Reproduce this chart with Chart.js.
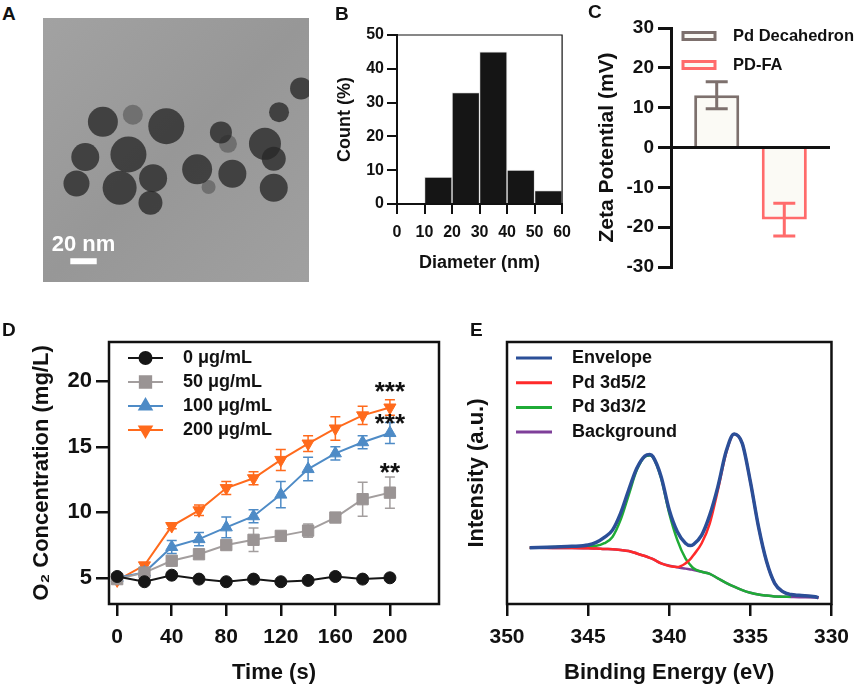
<!DOCTYPE html>
<html>
<head>
<meta charset="utf-8">
<script src="https://cdn.jsdelivr.net/npm/chart.js@4.4.1/dist/chart.umd.min.js"></script>
<style>
  body { margin: 0; background: #fff; }
  #fig { position: relative; width: 858px; height: 689px; overflow: hidden;
         font-family: 'Liberation Sans', Arial, Helvetica, sans-serif; }
  canvas { position: absolute; }
  .tag { position: absolute; font-weight: bold; font-size: 19px; line-height: 19px; color: #111; }
</style>
</head>
<body>
<div id="fig">
  <canvas id="panelA" width="302" height="300" style="left:25px;top:0px"></canvas>
  <canvas id="panelB" width="250" height="260" style="left:330px;top:20px"></canvas>
  <canvas id="panelC" width="268" height="275" style="left:590px;top:10px"></canvas>
  <canvas id="panelD" width="450" height="369" style="left:0px;top:320px"></canvas>
  <canvas id="panelE" width="398" height="369" style="left:460px;top:320px"></canvas>
  <div class="tag" style="left:2px;top:4px">A</div>
  <div class="tag" style="left:335px;top:4px">B</div>
  <div class="tag" style="left:588px;top:2px">C</div>
  <div class="tag" style="left:2px;top:320px">D</div>
  <div class="tag" style="left:470px;top:320px">E</div>
</div>
<script>
// ---- A: TEM image, particle positions (image px) ----
const particleX = [68, 140, 97, 48, 38, 87, 125, 122, 175, 202, 215, 252, 262, 293, 268, 262];
const particleY = [118, 123, 155, 158, 188, 193, 182, 210, 172, 130, 177, 143, 193, 80, 107, 160];
const particleR = [15, 18, 18, 14, 13, 17, 14, 12, 15, 11, 14, 16, 14, 11, 10, 12];
const faintX = [102, 188, 210];
const faintY = [110, 192, 143];
const faintR = [10, 7, 9];

// ---- B: size histogram ----
const diameterBins = [15, 25, 35, 45, 55];
const countPct = [8, 33, 45, 10, 4];
const diameterTicks = [0, 10, 20, 30, 40, 50, 60];
const countTicks = [0, 10, 20, 30, 40, 50];

// ---- C: zeta potential ----
const zetaLabels = ['Pd Decahedron', 'PD-FA'];
const zetaMean = [13.1, -18.1];
const zetaSd = [3.4, 4.1];
const zetaTicks = [-30, -20, -10, 0, 10, 20, 30];

// ---- D: O2 generation ----
const times = [0, 20, 40, 60, 80, 100, 120, 140, 160, 180, 200];
const o2Labels = ['0 μg/mL', '50 μg/mL', '100 μg/mL', '200 μg/mL'];
const o2_0 = [5.1, 4.7, 5.2, 4.9, 4.7, 4.9, 4.7, 4.8, 5.1, 4.9, 5.0];
const o2_0Err = [0.1, 0.1, 0.1, 0.1, 0.1, 0.1, 0.1, 0.1, 0.1, 0.1, 0.1];
const o2_50 = [4.9, 5.4, 6.3, 6.8, 7.5, 7.9, 8.2, 8.6, 9.6, 11.0, 11.5];
const o2_50Err = [0.1, 0.2, 0.3, 0.2, 0.2, 0.9, 0.3, 0.5, 0.3, 1.3, 1.2];
const o2_100 = [5.0, 5.4, 7.35, 7.95, 8.85, 9.7, 11.35, 13.3, 14.5, 15.35, 16.05];
const o2_100Err = [0.1, 0.2, 0.5, 0.5, 0.8, 0.5, 1.0, 0.9, 0.5, 0.5, 0.8];
const o2_200 = [4.8, 5.95, 8.95, 10.15, 11.85, 12.6, 14.0, 15.25, 16.4, 17.4, 18.0];
const o2_200Err = [0.1, 0.2, 0.2, 0.4, 0.5, 0.5, 0.8, 0.6, 0.9, 0.7, 0.6];
const timeTicks = [0, 40, 80, 120, 160, 200];
const o2Ticks = [5, 10, 15, 20];
const sigText = ['***', '***', '**'];
const sigX = [200, 200, 200];
const sigY = [19.1, 16.7, 12.9];

// ---- E: XPS Pd 3d ----
const bindingEnergy = [348.6, 347, 346, 345, 344.5, 344, 343.5, 343, 342.5, 342, 341.5, 341.2, 341, 340.5, 340,
  339.5, 339, 338.7, 338.5, 338, 337.5, 337, 336.5, 336, 335.5, 335, 334.5, 334, 333.5, 333, 332.5, 332, 331, 330.8];
const envelope = [21.5, 21.8, 22.0, 22.5, 23.5, 25.4, 28.2, 34.6, 43.5, 51.8, 56.5, 57.1, 56.2, 48.6, 35.9,
  27.6, 23.2, 22.3, 22.8, 26.3, 34.0, 44.8, 58.1, 64.9, 61.3, 46.7, 29.5, 16.2, 7.9, 4.7, 3.6, 3.3, 2.8, 2.4];
const pd3d52 = [21.5, 21.4, 21.4, 21.3, 21.2, 21.0, 20.9, 20.6, 20.2, 19.3, 18.3, 17.6, 17.1, 15.5, 14.5,
  14.1, 15.5, 17.1, 18.7, 23.2, 30.8, 43.5, 57.5, 64.9, 61.3, 46.7, 29.5, 16.2, 7.9, 4.7, 3.6, 3.3, 2.8, 2.4];
const pd3d32 = [21.5, 21.8, 22.0, 22.1, 22.2, 23.2, 25.6, 32.1, 41.6, 51.1, 56.2, 56.7, 56.0, 48.0, 34.6,
  24.4, 17.4, 14.9, 13.6, 12.3, 11.5, 9.8, 8.1, 6.6, 5.3, 4.3, 3.6, 3.2, 2.9, 2.8, 2.8, null, null, null];
const background = [21.5, 21.4, 21.4, 21.3, 21.2, 21.0, 20.9, 20.6, 20.2, 19.3, 18.3, 17.6, 17.1, 15.5, 14.6,
  14.0, 13.5, 13.2, 13.0, 12.3, 11.5, 9.8, 8.1, 6.6, 5.3, 4.3, 3.6, 3.2, 2.9, 2.8, 2.7, 2.6, 2.5, 2.4];
const xpsLabels = ['Envelope', 'Pd 3d5/2', 'Pd 3d3/2', 'Background'];
const energyTicks = [350, 345, 340, 335, 330];

const FONT = "'Liberation Sans', Arial, Helvetica, sans-serif";
Chart.defaults.font.family = FONT;
Chart.defaults.font.weight = 'bold';
Chart.defaults.color = '#111';
Chart.defaults.animation = false;
Chart.defaults.responsive = false;
Chart.defaults.plugins.legend.display = false;
Chart.defaults.plugins.tooltip.enabled = false;

// helpers for fixed axes
const fixTicks = values => s => { s.ticks = values.map(v => ({ value: v })); };
const fixWidth = w => s => { s.width = w; };
const fixHeight = h => s => { s.height = h; };
const tickGrid = (len, w) => ({ drawOnChartArea: false, drawTicks: true, tickLength: len,
  tickWidth: w, tickColor: '#111', color: '#111', lineWidth: w });
const xy = (xs, ys) => xs.map((x, i) => ({ x: x, y: ys[i] })).filter(p => p.y !== null);

// box around the plot area
const framePlugin = {
  id: 'frame',
  afterDraw(chart, args, o) {
    const { ctx, chartArea: a } = chart;
    ctx.save();
    ctx.strokeStyle = '#111';
    ctx.lineWidth = o.width;
    ctx.lineCap = 'square';
    ctx.beginPath();
    const sides = o.sides || 'tlrb';
    if (sides.includes('t')) { ctx.moveTo(a.left, a.top); ctx.lineTo(a.right, a.top); }
    if (sides.includes('r')) { ctx.moveTo(a.right, a.top); ctx.lineTo(a.right, a.bottom); }
    if (sides.includes('b')) { ctx.moveTo(a.left, a.bottom); ctx.lineTo(a.right, a.bottom); }
    if (sides.includes('l')) { ctx.moveTo(a.left, a.top); ctx.lineTo(a.left, a.bottom); }
    ctx.stroke();
    ctx.restore();
  }
};

// mean +/- sd bars
function drawErrors(chart, o) {
  const ctx = chart.ctx;
  chart.data.datasets.forEach((ds, di) => {
    if (!ds.errors) return;
    const meta = chart.getDatasetMeta(di);
    const yScale = chart.scales[meta.yAxisID];
    meta.data.forEach((el, i) => {
      const raw = ds.data[i];
      const v = typeof raw === 'object' ? raw.y : raw;
      const e = ds.errors[i];
      const x = el.x;
      const y1 = yScale.getPixelForValue(v + e);
      const y2 = yScale.getPixelForValue(v - e);
      ctx.save();
      ctx.strokeStyle = ds.borderColor;
      ctx.lineWidth = o.width;
      ctx.beginPath();
      ctx.moveTo(x, y1); ctx.lineTo(x, y2);
      ctx.moveTo(x - o.cap / 2, y1); ctx.lineTo(x + o.cap / 2, y1);
      ctx.moveTo(x - o.cap / 2, y2); ctx.lineTo(x + o.cap / 2, y2);
      ctx.stroke();
      ctx.restore();
    });
  });
}
const errorBarPlugin = {
  id: 'errorBars',
  beforeDatasetsDraw(chart, args, o) { if (o.behind) drawErrors(chart, o); },
  afterDatasetsDraw(chart, args, o) { if (!o.behind) drawErrors(chart, o); }
};

// legend drawn inside the plot
const insideLegend = {
  id: 'insideLegend',
  afterDraw(chart, args, o) {
    const ctx = chart.ctx;
    chart.data.datasets.forEach((ds, i) => {
      const y = o.y + i * o.gap;
      ctx.save();
      if (o.kind === 'box') {
        ctx.fillStyle = ds.backgroundColor;
        ctx.strokeStyle = ds.borderColor;
        ctx.lineWidth = o.lineWidth;
        ctx.fillRect(o.x0, y - o.h / 2, o.x1 - o.x0, o.h);
        ctx.strokeRect(o.x0, y - o.h / 2, o.x1 - o.x0, o.h);
      } else {
        ctx.strokeStyle = ds.borderColor;
        ctx.lineWidth = o.lineWidth;
        ctx.beginPath();
        ctx.moveTo(o.x0, y); ctx.lineTo(o.x1, y);
        ctx.stroke();
        if (o.markers && Chart.helpers && Chart.helpers.drawPoint) {
          ctx.fillStyle = ds.pointBackgroundColor;
          ctx.strokeStyle = ds.pointBackgroundColor;
          Chart.helpers.drawPoint(ctx, { pointStyle: ds.pointStyle, rotation: ds.pointRotation || 0,
            radius: ds.pointRadius, borderWidth: 1 }, (o.x0 + o.x1) / 2, y);
        }
      }
      ctx.fillStyle = '#111';
      ctx.font = 'bold ' + o.size + 'px ' + FONT;
      ctx.textBaseline = 'middle';
      ctx.textAlign = 'left';
      ctx.fillText(ds.label, o.textX, y);
      ctx.restore();
    });
  }
};

// ---------- Panel A ----------
const temPlugin = {
  id: 'tem',
  beforeDraw(chart) {
    const { ctx, chartArea: a } = chart;
    const g = ctx.createLinearGradient(a.left, a.top, a.right, a.bottom);
    g.addColorStop(0, '#a2a2a2');
    g.addColorStop(0.5, '#979797');
    g.addColorStop(1, '#a0a0a0');
    ctx.save();
    ctx.fillStyle = g;
    ctx.fillRect(a.left, a.top, a.right - a.left, a.bottom - a.top);
    ctx.restore();
  },
  afterDraw(chart) {
    const { ctx, scales: { x, y } } = chart;
    ctx.save();
    ctx.fillStyle = '#fff';
    ctx.fillRect(x.getPixelForValue(31), y.getPixelForValue(273), x.getPixelForValue(61) - x.getPixelForValue(31), 6);
    ctx.font = 'bold 22px ' + FONT;
    ctx.textAlign = 'center';
    ctx.textBaseline = 'middle';
    ctx.fillText('20 nm', x.getPixelForValue(46), y.getPixelForValue(258));
    ctx.restore();
  }
};
new Chart(document.getElementById('panelA'), {
  type: 'bubble',
  data: {
    datasets: [
      { data: particleX.map((px, i) => ({ x: px, y: particleY[i], r: particleR[i] })),
        backgroundColor: 'rgba(40,40,40,0.78)', borderWidth: 0 },
      { data: faintX.map((px, i) => ({ x: px, y: faintY[i], r: faintR[i] })),
        backgroundColor: 'rgba(70,70,70,0.5)', borderWidth: 0 }
    ]
  },
  options: {
    layout: { padding: 0 },
    scales: {
      x: { display: false, min: 0, max: 302 },
      y: { display: false, min: 0, max: 300, reverse: true }
    }
  },
  plugins: [temPlugin]
});

// ---------- Panel B ----------
new Chart(document.getElementById('panelB'), {
  type: 'bar',
  data: {
    datasets: [{
      data: xy(diameterBins, countPct),
      backgroundColor: '#151515', borderColor: '#e6e6e6', borderWidth: 1,
      borderSkipped: 'bottom', barPercentage: 1, categoryPercentage: 1
    }]
  },
  options: {
    layout: { padding: { top: 15, right: 15 } },
    plugins: { frame: { width: 1.2, sides: 'tr' } },
    scales: {
      x: {
        type: 'linear', min: 0, max: 60, offset: false,
        afterBuildTicks: fixTicks(diameterTicks), afterFit: fixHeight(76),
        grid: Object.assign(tickGrid(10, 2), { offset: false }),
        border: { color: '#111', width: 2 },
        ticks: { font: { size: 16 }, padding: 9, autoSkip: false, maxRotation: 0 },
        title: { display: true, text: 'Diameter (nm)', font: { size: 18 }, padding: { bottom: 6 } }
      },
      y: {
        min: 0, max: 50,
        afterBuildTicks: fixTicks(countTicks), afterFit: fixWidth(67),
        grid: tickGrid(10, 2),
        border: { color: '#111', width: 2 },
        ticks: { font: { size: 16 }, padding: 3 },
        title: { display: true, text: 'Count (%)', font: { size: 18 }, padding: { top: 4 } }
      }
    }
  },
  plugins: [framePlugin]
});

// ---------- Panel C ----------
const zetaColors = ['#7d706d', '#ff6b6b'];
new Chart(document.getElementById('panelC'), {
  type: 'bar',
  data: {
    labels: ['zeta'],
    datasets: zetaLabels.map((lab, i) => ({
      label: lab, data: [zetaMean[i]], errors: [zetaSd[i]],
      backgroundColor: '#fbfaf5', borderColor: zetaColors[i], borderWidth: 3,
      categoryPercentage: 0.85, barPercentage: 0.667
    }))
  },
  options: {
    layout: { padding: { top: 18, right: 28, bottom: 18 } },
    plugins: {
      errorBars: { width: 3, cap: 22, behind: false },
      insideLegend: { kind: 'box', x0: 93, x1: 125, h: 7, lineWidth: 3, y: 26, gap: 29, textX: 143, size: 16.5 }
    },
    scales: {
      x: { display: false },
      y: {
        min: -30, max: 30,
        afterBuildTicks: fixTicks(zetaTicks), afterFit: fixWidth(81),
        grid: {
          drawOnChartArea: true, drawTicks: true, tickLength: 13, tickWidth: 3, tickColor: '#111', lineWidth: 3,
          color: c => (c.tick && c.tick.value === 0 ? '#111' : 'rgba(0,0,0,0)')
        },
        border: { color: '#111', width: 3 },
        ticks: { font: { size: 19 }, padding: 4 },
        title: { display: true, text: 'Zeta Potential (mV)', font: { size: 21 }, padding: { top: 5 } }
      }
    }
  },
  plugins: [errorBarPlugin, insideLegend]
});

// ---------- Panel D ----------
const sigPlugin = {
  id: 'sig',
  afterDatasetsDraw(chart) {
    const { ctx, scales: { x, y } } = chart;
    ctx.save();
    ctx.fillStyle = '#111';
    ctx.font = 'bold 26px ' + FONT;
    ctx.textAlign = 'center';
    ctx.textBaseline = 'middle';
    sigText.forEach((t, i) => ctx.fillText(t, x.getPixelForValue(sigX[i]), y.getPixelForValue(sigY[i])));
    ctx.restore();
  }
};
const o2Series = [o2_0, o2_50, o2_100, o2_200];
const o2Errs = [o2_0Err, o2_50Err, o2_100Err, o2_200Err];
const o2Colors = ['#161616', '#a39e9e', '#4e8bc6', '#ff6a1c'];
const o2Markers = ['#161616', '#9a9494', '#4e8bc6', '#ff6a1c'];
const o2Styles = ['circle', 'rect', 'triangle', 'triangle'];
const o2Rot = [0, 0, 0, 180];
const o2Radius = [6, 8, 7, 7];
new Chart(document.getElementById('panelD'), {
  type: 'line',
  data: {
    datasets: o2Series.map((s, i) => ({
      label: o2Labels[i], data: xy(times, s), errors: o2Errs[i],
      borderColor: o2Colors[i], borderWidth: 2, tension: 0,
      pointStyle: o2Styles[i], pointRotation: o2Rot[i], pointRadius: o2Radius[i],
      pointBackgroundColor: o2Markers[i], pointBorderColor: o2Markers[i], pointBorderWidth: 1
    }))
  },
  options: {
    layout: { padding: { top: 22, right: 11 } },
    plugins: {
      frame: { width: 2.5 },
      errorBars: { width: 1.5, cap: 10, behind: true },
      insideLegend: { kind: 'line', markers: true, x0: 128, x1: 163, lineWidth: 2, y: 38, gap: 24, textX: 183, size: 18 }
    },
    scales: {
      x: {
        type: 'linear', min: -6, max: 236,
        afterBuildTicks: fixTicks(timeTicks), afterFit: fixHeight(85),
        grid: tickGrid(12, 2.5), border: { display: false },
        ticks: { font: { size: 21 }, padding: 9, autoSkip: false, maxRotation: 0 },
        title: { display: true, text: 'Time (s)', font: { size: 22 }, padding: { bottom: 3 } }
      },
      y: {
        min: 3, max: 23,
        afterBuildTicks: fixTicks(o2Ticks), afterFit: fixWidth(109),
        grid: tickGrid(13, 2.5), border: { display: false },
        ticks: { font: { size: 22 }, padding: 4 },
        title: { display: true, text: 'O₂ Concentration (mg/L)', font: { size: 22 }, padding: { top: 29 } }
      }
    }
  },
  plugins: [framePlugin, errorBarPlugin, insideLegend, sigPlugin]
});

// ---------- Panel E ----------
const xpsSeries = [envelope, pd3d52, pd3d32, background];
const xpsColors = ['#2b4f98', '#ff2a2a', '#1fab36', '#7e3f99'];
const xpsWidths = [3.5, 2.5, 2.5, 2.5];
new Chart(document.getElementById('panelE'), {
  type: 'line',
  data: {
    datasets: xpsSeries.map((s, i) => ({
      label: xpsLabels[i], data: xy(bindingEnergy, s),
      borderColor: xpsColors[i], borderWidth: xpsWidths[i], pointRadius: 0,
      cubicInterpolationMode: 'monotone'
    }))
  },
  options: {
    layout: { padding: { top: 22, right: 20 } },
    plugins: {
      frame: { width: 2.5 },
      insideLegend: { kind: 'line', x0: 56, x1: 92, lineWidth: 3, y: 38, gap: 24.7, textX: 112, size: 18 }
    },
    scales: {
      x: {
        type: 'linear', min: 330, max: 350, reverse: true,
        afterBuildTicks: fixTicks(energyTicks), afterFit: fixHeight(85),
        grid: tickGrid(12, 2.5), border: { display: false },
        ticks: { font: { size: 21 }, padding: 9, autoSkip: false, maxRotation: 0 },
        title: { display: true, text: 'Binding Energy (eV)', font: { size: 22 }, padding: { bottom: 3 } }
      },
      y: {
        min: 0, max: 100, afterFit: fixWidth(47),
        grid: { display: false }, border: { display: false }, ticks: { display: false },
        title: { display: true, text: 'Intensity (a.u.)', font: { size: 22 }, padding: { top: 4 } }
      }
    }
  },
  plugins: [framePlugin, insideLegend]
});
</script>
</body>
</html>
